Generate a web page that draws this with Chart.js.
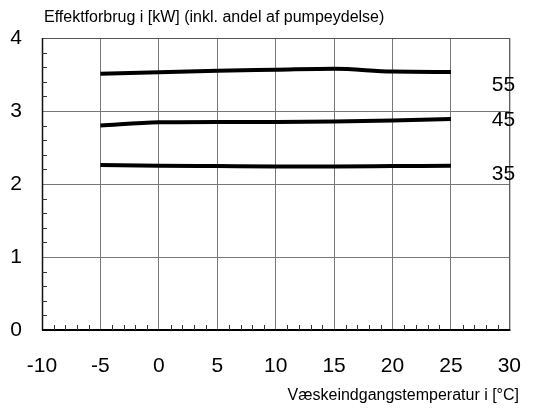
<!DOCTYPE html>
<html>
<head>
<meta charset="utf-8">
<script src="https://cdn.jsdelivr.net/npm/chart.js@4.4.0/dist/chart.umd.min.js"></script>
<style>
  html, body { margin: 0; padding: 0; background: #fff; }
  #wrap { width: 545px; height: 410px; }
</style>
</head>
<body>
<div id="wrap"><canvas id="chart"></canvas></div>
<script>
// inlet temperatures (x) and power draw per flow temperature
const temps = [-5, 0, 5, 10, 15, 20, 25];
const power55 = [3.51, 3.53, 3.55, 3.565, 3.58, 3.54, 3.535];
const power45 = [2.80, 2.845, 2.85, 2.85, 2.855, 2.87, 2.89];
const power35 = [2.26, 2.25, 2.245, 2.24, 2.24, 2.245, 2.25];

const seriesNames = ['55', '45', '35'];
const labelX = [29.5, 29.5, 29.5];
const labelY = [3.35, 2.87, 2.14];

const xTicks = [-10, -5, 0, 5, 10, 15, 20, 25, 30];
const yTicks = [0, 1, 2, 3, 4];
const xMinor = [-9,-8,-7,-6,-4,-3,-2,-1,1,2,3,4,6,7,8,9,11,12,13,14,16,17,18,19,21,22,23,24,26,27,28,29];
const yMinor = [0.2,0.4,0.6,0.8,1.2,1.4,1.6,1.8,2.2,2.4,2.6,2.8,3.2,3.4,3.6,3.8];

const yTitle = 'Effektforbrug i [kW] (inkl. andel af pumpeydelse)';
const xTitle = 'Væskeindgangstemperatur i [°C]';

const FONT = '"Liberation Sans", Arial, sans-serif';

const toPoints = (ys) => temps.map((t, i) => ({ x: t, y: ys[i] }));

const extras = {
  id: 'extras',
  afterDraw(chart) {
    const { ctx, chartArea, scales } = chart;
    const xs = scales.x, ys = scales.y;
    ctx.save();
    // frame
    ctx.strokeStyle = '#555';
    ctx.lineWidth = 1;
    ctx.strokeRect(chartArea.left + 0.5, chartArea.top + 0.5, chartArea.right - chartArea.left, chartArea.bottom - chartArea.top);
    // axes
    ctx.strokeStyle = '#111';
    ctx.lineWidth = 1.5;
    ctx.beginPath();
    ctx.moveTo(chartArea.left + 0.5, chartArea.top);
    ctx.lineTo(chartArea.left + 0.5, chartArea.bottom);
    ctx.stroke();
    ctx.strokeStyle = '#000';
    ctx.lineWidth = 2;
    ctx.beginPath();
    ctx.moveTo(chartArea.left, chartArea.bottom);
    ctx.lineTo(chartArea.right + 1, chartArea.bottom);
    ctx.stroke();
    // minor ticks
    ctx.lineWidth = 1;
    ctx.strokeStyle = '#333';
    ctx.beginPath();
    yMinor.forEach(v => {
      const py = Math.round(ys.getPixelForValue(v)) + 0.5;
      ctx.moveTo(chartArea.left, py);
      ctx.lineTo(chartArea.left + 5, py);
    });
    xMinor.forEach(v => {
      const px = Math.round(xs.getPixelForValue(v)) + 0.5;
      ctx.moveTo(px, chartArea.bottom);
      ctx.lineTo(px, chartArea.bottom - 5);
    });
    ctx.stroke();
    // series labels
    ctx.fillStyle = '#000';
    ctx.font = '21px ' + FONT;
    ctx.textAlign = 'center';
    ctx.textBaseline = 'middle';
    seriesNames.forEach((s, i) => {
      ctx.fillText(s, xs.getPixelForValue(labelX[i]), ys.getPixelForValue(labelY[i]));
    });
    // titles
    ctx.font = '16px ' + FONT;
    ctx.textAlign = 'left';
    ctx.fillText(yTitle, chartArea.left + 2, 18);
    ctx.textAlign = 'right';
    ctx.fillText(xTitle, 519, 396);
    ctx.restore();
  }
};

const lineStyle = {
  borderColor: '#000',
  borderWidth: 4,
  pointRadius: 0,
  tension: 0.4,
  cubicInterpolationMode: 'monotone',
  fill: false
};

new Chart(document.getElementById('chart'), {
  type: 'line',
  data: {
    datasets: [
      { label: '55', data: toPoints(power55), ...lineStyle },
      { label: '45', data: toPoints(power45), ...lineStyle },
      { label: '35', data: toPoints(power35), ...lineStyle }
    ]
  },
  options: {
    responsive: true,
    maintainAspectRatio: false,
    animation: false,
    layout: { padding: { top: 38, right: 35, left: 0, bottom: 0 } },
    plugins: { legend: { display: false }, tooltip: { enabled: false } },
    scales: {
      x: {
        type: 'linear',
        min: -10,
        max: 30,
        afterBuildTicks: (scale) => { scale.ticks = xTicks.map(v => ({ value: v })); },
        afterFit: (scale) => { scale.height = 80; },
        grid: { color: '#777', lineWidth: 1, drawTicks: false },
        border: { display: false },
        ticks: { color: '#000', font: { family: FONT, size: 21 }, padding: 24, maxRotation: 0 }
      },
      y: {
        min: 0,
        max: 4,
        afterBuildTicks: (scale) => { scale.ticks = yTicks.map(v => ({ value: v })); },
        afterFit: (scale) => { scale.width = 42; },
        grid: { color: '#777', lineWidth: 1, drawTicks: false },
        border: { display: false },
        ticks: { color: '#000', font: { family: FONT, size: 21 }, padding: 20, align: 'center' }
      }
    }
  },
  plugins: [extras]
});
</script>
</body>
</html>
